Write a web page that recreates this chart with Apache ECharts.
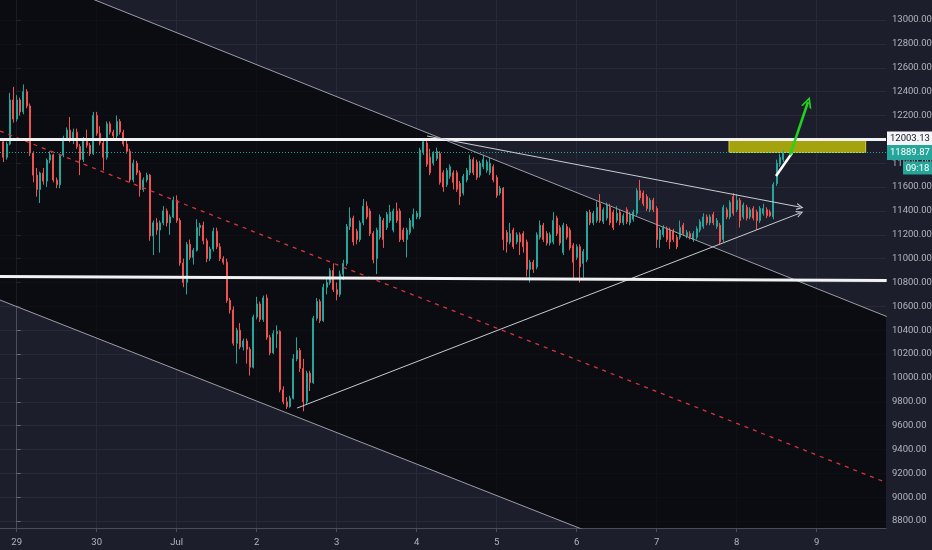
<!DOCTYPE html>
<html><head><meta charset="utf-8">
<script src="https://cdn.jsdelivr.net/npm/echarts@6/dist/echarts.min.js"></script>
<style>html,body{margin:0;padding:0;background:#1c1f2b;overflow:hidden;} #c{width:932px;height:550px;}</style>
</head><body><div id="c"></div>
<script>
// ---- data (hourly candles, hours counted from 29 Jun 00:00) ----
const firstHour = -4;
const candles = [
[11980,11850,11810,11995],[11850,11960,11830,11980],[11960,12330,11950,12390],[12330,12170,12140,12440],
[12170,12330,12150,12370],[12330,12230,12200,12350],[12230,12400,12210,12460],[12400,12280,12260,12420],
[12280,11885,11860,12300],[11885,11700,11640,11900],[11700,11580,11520,11760],[11580,11717,11466,11730],
[11717,11650,11620,11760],[11650,11826,11600,11840],[11826,11870,11800,11900],[11870,11659,11640,11880],
[11659,11620,11590,11680],[11620,11868,11590,11880],[11868,12011,11850,12030],[12011,12078,11990,12100],
[12078,11994,11975,12187],[11994,12060,11960,12090],[12060,11940,11920,12090],[11940,11830,11700,11960],
[11830,12000,11810,12020],[12000,11950,11930,12080],[11950,11880,11860,11970],[11880,12200,11870,12230],
[12200,12050,12030,12230],[12050,11970,11950,12110],[11970,11850,11740,12000],[11850,12130,11830,12150],
[12130,12060,12040,12150],[12060,12030,12000,12080],[12030,12150,12010,12200],[12150,12060,12040,12170],
[12060,11960,11940,12080],[11960,11900,11880,11990],[11900,11660,11640,11920],[11660,11800,11640,11830],
[11800,11720,11700,11820],[11720,11580,11520,11740],[11580,11660,11560,11680],[11660,11700,11640,11720],
[11700,11190,11150,11710],[11190,11300,11030,11320],[11300,11240,11200,11340],[11240,11300,11050,11320],
[11300,11400,11280,11440],[11400,11300,11270,11420],[11300,11350,11200,11370],[11350,11490,11340,11520],
[11490,11320,11300,11530],[11320,10963,10940,11340],[10963,10800,10760,11000],[10800,11120,10700,11140],
[11120,11010,10990,11160],[11010,11070,10950,11090],[11070,11260,11060,11330],[11260,11280,11190,11300],
[11280,11150,11120,11310],[11150,11000,10970,11170],[11000,11080,10980,11100],[11080,11230,11060,11260],
[11230,11100,11080,11260],[11100,11000,10980,11130],[11000,10970,10950,11020],[10970,10650,10630,11000],
[10650,10570,10540,10670],[10570,10290,10270,10600],[10290,10400,10120,10420],[10400,10260,10240,10460],
[10260,10310,10230,10330],[10310,10240,10120,10330],[10240,10090,10020,10260],[10090,10510,10080,10530],
[10510,10620,10490,10680],[10620,10490,10470,10640],[10490,10670,10470,10690],[10670,10340,10320,10700],
[10340,10210,10190,10360],[10210,10370,10200,10400],[10370,10390,10250,10440],[10390,9900,9880,10400],
[9900,9800,9780,9930],[9800,9760,9740,9840],[9760,9830,9750,9850],[9830,10160,9820,10200],
[10160,10230,10140,10340],[10230,10080,10050,10250],[10080,9800,9720,10160],[9800,10040,9780,10060],
[10040,9960,9890,10060],[9960,10500,9950,10520],[10500,10640,10480,10670],[10640,10480,10460,10660],
[10480,10760,10470,10790],[10760,10800,10700,10830],[10800,10900,10780,10920],[10900,10740,10720,10960],
[10740,10700,10650,10800],[10700,10870,10680,10900],[10870,10960,10820,10990],[10960,11270,10940,11290],
[11270,11340,11240,11430],[11340,11140,11110,11360],[11230,11160,11120,11250],[11160,11300,11140,11320],
[11300,11440,11280,11500],[11440,11350,11330,11480],[11400,11210,11190,11420],[11210,10990,10960,11230],
[11000,11240,10870,11260],[11180,11350,11160,11370],[11320,11160,11090,11340],[11260,11370,11240,11390],
[11320,11390,11300,11450],[11240,11400,11220,11420],[11400,11320,11300,11470],[11400,11160,11140,11420],
[11240,11160,11140,11260],[11160,11240,11010,11260],[11220,11320,11200,11340],[11270,11370,11250,11420],
[11350,11380,11330,11400],[11350,11910,11330,11930],[11890,11980,11870,12010],[11970,11790,11770,12003.13],
[11850,11720,11700,11920],[11800,11880,11780,11900],[11840,11900,11820,11930],[11880,11640,11620,11900],
[11720,11600,11560,11740],[11620,11740,11600,11760],[11690,11770,11670,11790],[11720,11640,11580,11740],
[11720,11580,11560,11740],[11630,11520,11450,11650],[11550,11690,11530,11710],[11660,11740,11640,11760],
[11720,11830,11700,11870],[11830,11720,11700,11850],[11810,11680,11660,11830],[11700,11800,11680,11820],
[11770,11830,11750,11870],[11740,11810,11720,11830],[11720,11800,11700,11850],[11770,11660,11640,11790],
[11680,11530,11510,11700],[11550,11590,11530,11610],[11590,11160,11070,11600],[11220,11140,11050,11240],
[11140,11210,11120,11300],[11240,11100,11080,11260],[11140,11200,11120,11220],[11200,11140,11030,11220],
[11210,11100,11050,11230],[11140,10910,10850,11160],[10910,10970,10800,10990],[10970,10910,10880,10990],
[10930,11200,10910,11220],[11180,11280,11160,11320],[11280,11160,11140,11300],[11210,11130,11110,11230],
[11130,11200,11110,11220],[11140,11320,11120,11390],[11340,11210,11190,11360],[11260,11130,11110,11280],
[11050,11280,11030,11300],[11270,11180,11160,11290],[11240,11090,11070,11260],[11110,10970,10820,11130],
[11010,11100,10990,11120],[11100,10930,10800,11120],[10960,11060,10840,11080],[10990,11390,10970,11400],
[11390,11300,11280,11410],[11300,11380,11280,11400],[11320,11430,11300,11480],[11460,11320,11300,11540],
[11310,11410,11290,11430],[11340,11450,11320,11470],[11430,11300,11280,11460],[11390,11260,11240,11410],
[11320,11380,11300,11440],[11390,11300,11280,11410],[11300,11360,11280,11380],[11410,11310,11290,11430],
[11300,11370,11280,11390],[11330,11390,11310,11410],[11380,11570,11360,11590],[11570,11510,11490,11660],
[11550,11460,11440,11570],[11520,11420,11400,11540],[11410,11490,11390,11510],[11490,11410,11390,11510],
[11420,11160,11090,11440],[11160,11240,11090,11260],[11200,11260,11180,11280],[11250,11160,11140,11270],
[11240,11140,11080,11260],[11230,11160,11140,11250],[11180,11100,11080,11200],[11180,11260,11160,11320],
[11280,11210,11190,11300],[11190,11220,11170,11240],[11210,11180,11160,11230],[11160,11210,11140,11230],
[11180,11250,11160,11270],[11240,11310,11220,11330],[11270,11350,11250,11380],[11350,11300,11280,11370],
[11300,11350,11280,11370],[11370,11300,11280,11390],[11270,11320,11250,11340],[11280,11140,11120,11300],
[11160,11430,11140,11450],[11410,11350,11330,11430],[11350,11470,11330,11490],[11520,11380,11360,11550],
[11410,11490,11390,11540],[11490,11320,11260,11510],[11350,11450,11330,11470],[11430,11340,11320,11450],
[11350,11410,11330,11430],[11420,11340,11320,11440],[11390,11320,11240,11410],[11320,11420,11300,11440],
[11380,11420,11360,11460],[11410,11360,11340,11430],[11390,11360,11350,11410],[11350,11620,11330,11640],
[11630,11800,11610,11830],[11790,11850,11770,11880],[11830,11889.87,11810,11910]
];
const dayHours = [0,24,48,72,96,120,144,168,192,216,240];
const dayLabels = ['29','30','Jul','2','3','4','5','6','7','8','9'];
const priceTicks = [8800,9000,9200,9400,9600,9800,10000,10200,10400,10600,10800,11000,11200,11400,11600,11800,12000,12200,12400,12600,12800,13000];
const resistance = 12003.13;
const lastPrice = 11889.87;
const countdown = '09:18';
const channelUpper = [[-5, 13486], [261, 10515]];
const channelLower = [[-5, 10653], [261, 7727]];
const channelMid = [[-5, 12070], [261, 9121]];
const supportLine = [[-5, 10850], [261, 10816]];
const triangleLower = [[84.1, 9747], [235.0, 11382]];
const triangleUpper = [[123.1, 12028], [235.0, 11432]];
const breakoutLeg = [[227.8, 11692], [232.6, 11885]];
const targetArrow = [[232.0, 11868], [237.4, 12313]];
const targetZone = [[213.7, resistance], [254.7, lastPrice]];

// ---- styles ----
const bg = '#1c1f2b';
const gridColor = '#272b37';
const axisText = '#b2b5be';
const up = '#26a69a', down = '#ef5350';
const font = 'Roboto, "Liberation Sans", sans-serif';
const chevron = 'path://M0,10 L5,0 L10,10 L8.3,10 L5,3.4 L1.7,10 Z';

const chart = echarts.init(document.getElementById('c'), null, {renderer: 'canvas'});
const channelBand = [channelUpper[0], channelUpper[1], channelLower[1], channelLower[0]];

function seg(name, pts, lineStyle, z) {
  return {type: 'line', name, data: pts, symbol: 'none', silent: true, animation: false,
          clip: true, lineStyle, z: z || 4};
}

chart.setOption({
  backgroundColor: bg,
  animation: false,
  grid: {left: 0, right: 46, top: 0, bottom: 22, show: true, backgroundColor: bg, borderWidth: 0,
         containLabel: false, outerBoundsMode: 'none'},
  xAxis: {
    type: 'value', min: -5, max: 260.8,
    axisLine: {show: true, lineStyle: {color: '#4a4e5a', width: 1}},
    axisTick: {show: true, length: 4, customValues: dayHours, lineStyle: {color: '#4a4e5a'}},
    axisLabel: {customValues: dayHours, color: axisText, fontSize: 9.5, fontFamily: font, margin: 10,
                formatter: v => dayLabels[dayHours.indexOf(v)] || ''},
    splitLine: {show: true, lineStyle: {color: gridColor, width: 1}}
  },
  yAxis: {
    type: 'value', position: 'right', min: 8742, max: 13168, scale: true,
    axisLine: {show: true, lineStyle: {color: '#4a4e5a', width: 1}},
    axisTick: {show: true, length: 4, customValues: priceTicks, lineStyle: {color: '#6a6e79'}},
    axisLabel: {customValues: priceTicks, color: axisText, fontSize: 9.5, fontFamily: font, margin: 6,
                formatter: v => v.toFixed(2)},
    splitLine: {show: true, lineStyle: {color: gridColor, width: 1}}
  },
  series: [
    {type: 'custom', name: 'channel', clip: true, silent: true, z: 1, animation: false,
     data: [[0, 11000]], encode: {x: 0, y: 1},
     renderItem: (params, api) => ({
       type: 'polygon',
       shape: {points: channelBand.map(p => api.coord(p))},
       style: {fill: 'rgba(3,3,6,0.66)'}
     })},
    {type: 'candlestick', name: 'BTC', silent: true, animation: false, z: 3,
     data: candles.map((c, i) => [firstHour + i, c[0], c[1], c[2], c[3]]),
     encode: {x: 0, y: [1, 2, 3, 4]},
     barWidth: 1.6,
     itemStyle: {color: up, color0: down, borderColor: up, borderColor0: down, borderWidth: 1}},
    seg('channelUpper', channelUpper, {color: '#9a9da6', width: 1}),
    seg('channelLower', channelLower, {color: '#9a9da6', width: 1}),
    seg('channelMid', channelMid, {color: '#d8343a', width: 1.3, type: [4, 5]}),
    seg('support', supportLine, {color: '#f2f2f4', width: 3}, 6),
    {type: 'line', name: 'levels', data: [], silent: true, animation: false, z: 6,
     markArea: {silent: true, animation: false,
       itemStyle: {color: '#a5a30d', borderColor: '#d3d146', borderWidth: 1},
       data: [[{coord: targetZone[0]}, {coord: targetZone[1]}]]},
     markLine: {silent: true, animation: false, symbol: 'none',
       data: [
         {yAxis: resistance, lineStyle: {color: '#f2f2f4', width: 3, type: 'solid'},
          label: {show: true, position: 'end', distance: 1, formatter: resistance.toFixed(2),
                  backgroundColor: '#f4f5f8', color: '#131722', padding: [3, 3, 2, 3],
                  fontSize: 9.5, fontFamily: font}},
         {yAxis: lastPrice, lineStyle: {color: up, width: 1, type: [1, 2]},
          label: {show: true, position: 'end', distance: 1, formatter: lastPrice.toFixed(2),
                  backgroundColor: up, color: '#ffffff', padding: [3, 3, 2, 3],
                  fontSize: 9.5, fontFamily: font}}
       ]}},
    {type: 'line', name: 'drawings', data: [], silent: true, animation: false, z: 7,
     markLine: {silent: true, animation: false, label: {show: false},
       data: [
         [{coord: triangleLower[0], symbol: 'none'},
          {coord: triangleLower[1], symbol: chevron, symbolSize: 7, lineStyle: {color: '#c9cbd1', width: 1, type: 'solid'}}],
         [{coord: triangleUpper[0], symbol: 'none'},
          {coord: triangleUpper[1], symbol: chevron, symbolSize: 7, lineStyle: {color: '#c9cbd1', width: 1, type: 'solid'}}],
         [{coord: breakoutLeg[0], symbol: 'none'},
          {coord: breakoutLeg[1], symbol: 'none', lineStyle: {color: '#ffffff', width: 2.5, type: 'solid'}}],
         [{coord: targetArrow[0], symbol: 'none'},
          {coord: targetArrow[1], symbol: chevron, symbolSize: 11, lineStyle: {color: '#22d41f', width: 2.5, type: 'solid'}}]
       ]}}
  ]
});

const yLast = chart.convertToPixel({yAxisIndex: 0}, lastPrice);
chart.setOption({
  graphic: [{
    type: 'group', z: 100, children: [
      {type: 'rect', z: 100, shape: {x: 903, y: yLast + 9, width: 29, height: 13}, style: {fill: up}},
      {type: 'text', z: 101, x: 917.5, y: yLast + 16, style: {text: countdown, fill: '#ffffff',
        font: '9.5px ' + font, align: 'center', verticalAlign: 'middle'}}
    ]
  }]
});
</script>
</body></html>
